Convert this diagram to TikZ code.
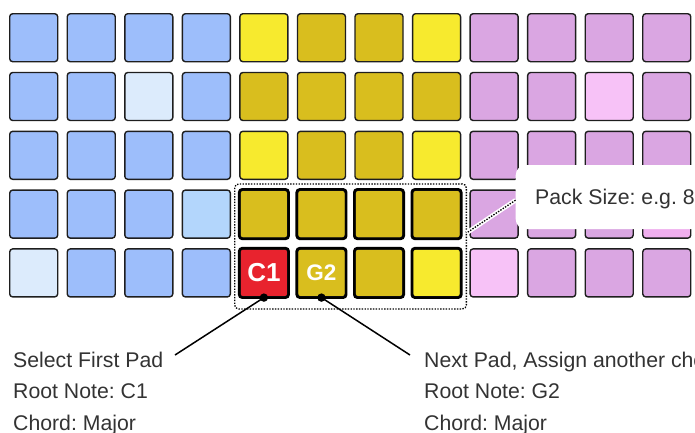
\documentclass[tikz,border=0pt]{standalone}
\usepackage{fontspec}
\setmainfont{Liberation Sans}
\frenchspacing
\definecolor{cB}{HTML}{9DBEFB}
\definecolor{cL}{HTML}{DCEBFC}
\definecolor{cM}{HTML}{B3D6FC}
\definecolor{cY}{HTML}{F7EA2E}
\definecolor{cD}{HTML}{D9BE1E}
\definecolor{cP}{HTML}{DAA6E2}
\definecolor{cK}{HTML}{F7C2F7}
\definecolor{cQ}{HTML}{F0AEEE}
\definecolor{cR}{HTML}{E8232E}
\definecolor{txt}{HTML}{333333}
\definecolor{edge}{HTML}{1E1E1E}
\tikzset{
  pad/.style={draw=edge, line width=1.4pt, rounded corners=3pt, minimum width=48pt, minimum height=48pt, inner sep=0pt, anchor=north west},
  thickpad/.style={draw=black, line width=2.6pt, rounded corners=3pt},
  padlabel/.style={text=white, font=\bfseries\fontsize{26}{28}\selectfont, inner sep=0pt},
  padlabelsmall/.style={text=white, font=\bfseries\fontsize{22.5}{26}\selectfont, inner sep=0pt},
  caption/.style={text=txt, font=\fontsize{21.25}{25}\selectfont, inner sep=0pt, anchor=base west},
  leader/.style={draw=black, line width=1.5pt},
  dots/.style={dash pattern=on 1.4pt off 1.4pt},
  packframe/.style={draw=black, dots, line width=1.3pt, rounded corners=4pt, minimum width=231.7pt, minimum height=125pt, inner sep=0pt, anchor=north west},
  calloutbox/.style={fill=white, rounded corners=10pt, minimum width=220pt, minimum height=64pt, inner sep=0pt, anchor=north west}
}
\begin{document}
\begin{tikzpicture}[x=1pt,y=-1pt]
\useasboundingbox (0,0) rectangle (695,432);
\clip (0,0) rectangle (695,432);
\foreach \row [count=\r] in {{B,B,B,B,Y,D,D,Y,P,P,P,P},{B,B,L,B,D,D,D,D,P,P,K,P},{B,B,B,B,Y,D,D,Y,P,P,P,P},{B,B,B,M,D,D,D,D,P,P,P,Q},{L,B,B,B,R,D,D,Y,K,P,P,P}}{
  \foreach \c [count=\k] in \row {
    \node[pad, fill=c\c] (p-\r-\k) at ({9+57.55*(\k-1)}, {13+58.8*(\r-1)}) {};
  }
}
\foreach \r in {4,5}{
  \foreach \k in {5,6,7,8}{
    \draw[thickpad] (p-\r-\k.north west) rectangle (p-\r-\k.south east);
  }
}
\node[padlabel] (c1) at (p-5-5.center) {C1};
\node[padlabelsmall] (g2) at (p-5-6.center) {G2};
% pack frame
\node[packframe] (pack) at (234,183.3) {};
% callout box
\node[calloutbox] (packbox) at (515.5,165) {};
\node[caption] (packtext) at (535,204) {Pack Size: e.g. 8};
\draw[white, line width=4.5pt] ([yshift=-3pt]packbox.west) -- ([yshift=13.8pt]pack.east);
\draw[black, dots, line width=1.3pt] ([yshift=-3pt]packbox.west) -- ([yshift=13.8pt]pack.east);
% left caption
\node[caption] (sel) at (13,367) {Select First Pad};
\node[caption] (root1) at (13,398.7) {Root Note: C1};
\node[caption] (chord1) at (13,430.3) {Chord: Major};
\coordinate (c1end) at (175,355);
\fill (p-5-5.south) circle (4.2pt);
\draw[leader] (p-5-5.south) -- (c1end);
% right caption
\node[caption] (nxt) at (424,367) {Next Pad, Assign another chord};
\node[caption] (root2) at (424,398.7) {Root Note: G2};
\node[caption] (chord2) at (424,430.3) {Chord: Major};
\coordinate (g2end) at (410,355);
\fill (p-5-6.south) circle (4.2pt);
\draw[leader] (p-5-6.south) -- (g2end);
\end{tikzpicture}
\end{document}
